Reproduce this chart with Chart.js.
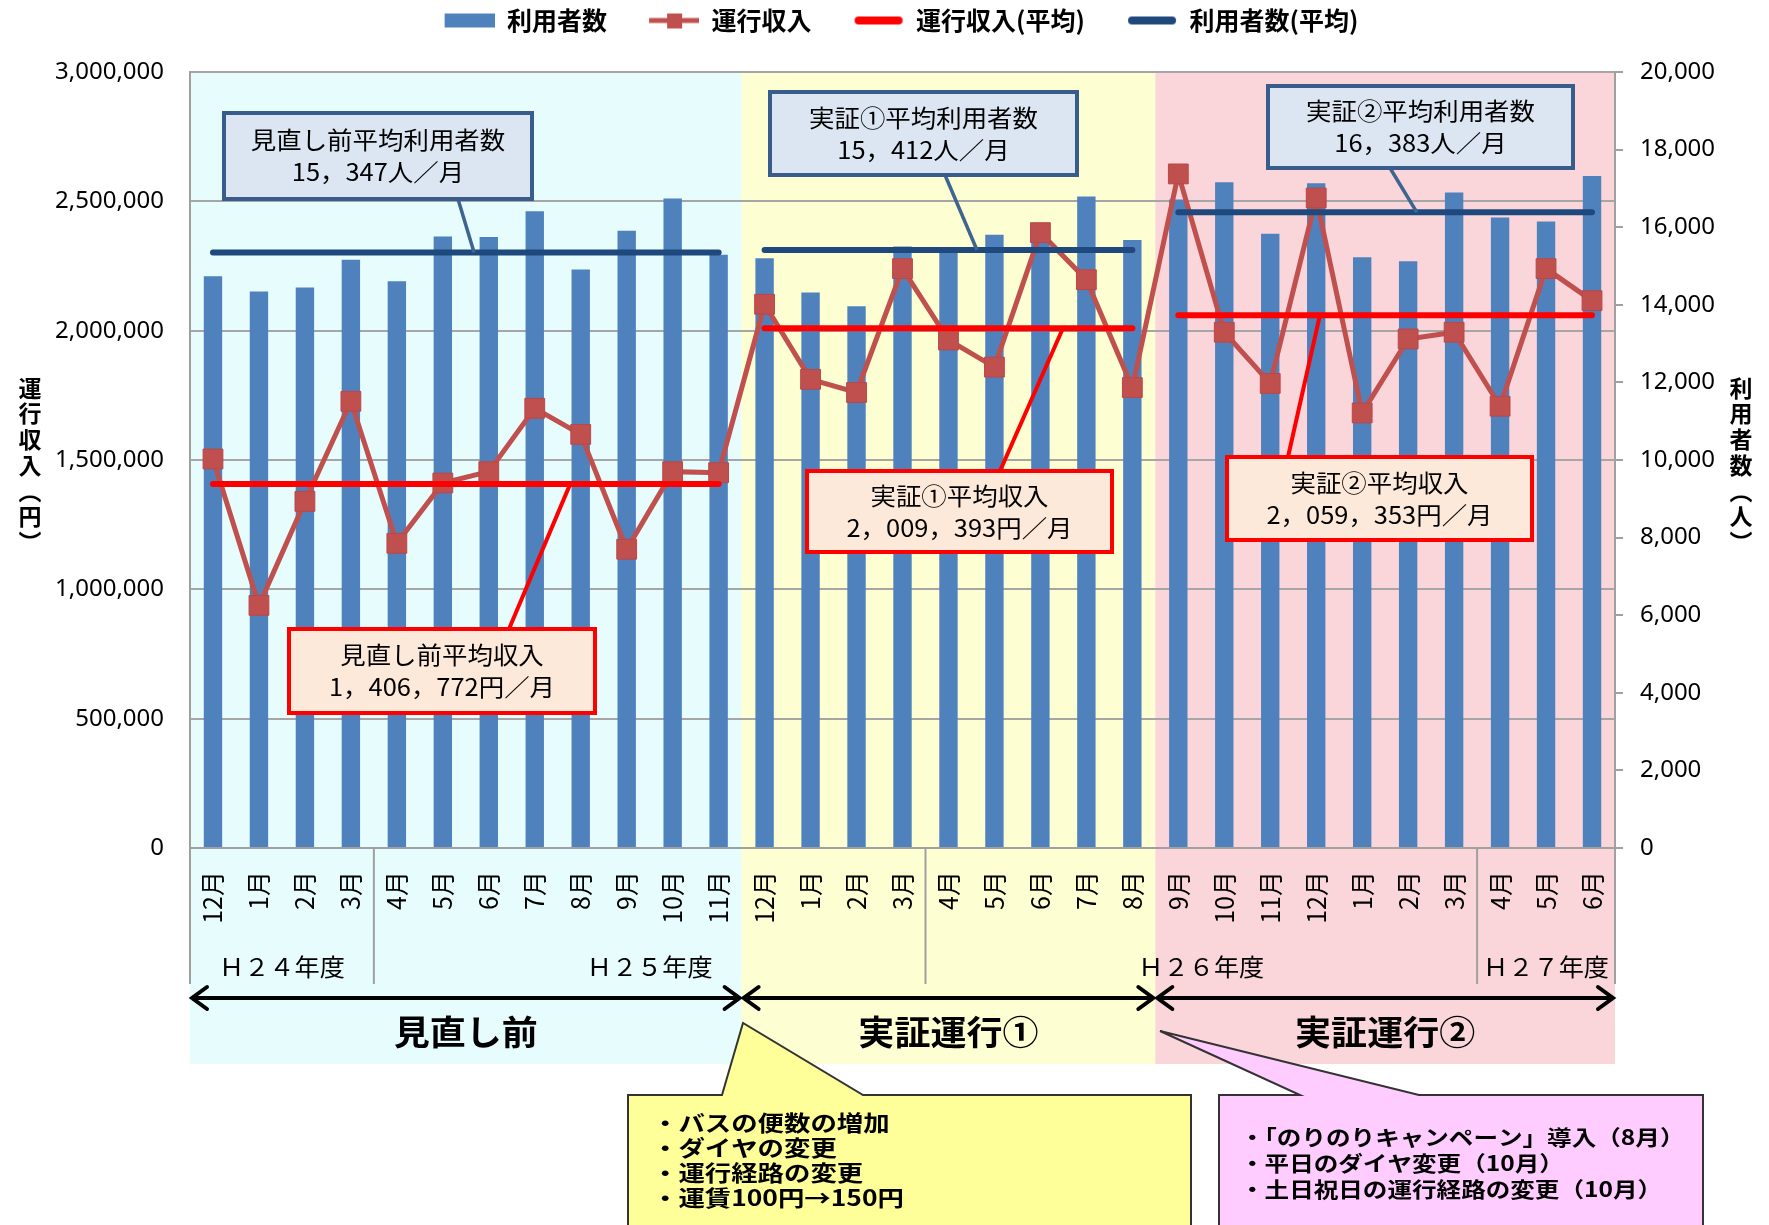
<!DOCTYPE html>
<html lang="ja">
<head>
<meta charset="utf-8">
<title>利用者数・運行収入の推移</title>
<script src="https://cdn.jsdelivr.net/npm/chart.js@4.4.1/dist/chart.umd.min.js"></script>
<style>
  html, body { margin: 0; padding: 0; background: #fff; }
  #wrap { width: 1769px; height: 1225px; }
</style>
</head>
<body>
<div id="wrap"><canvas id="chart" width="1769" height="1225"></canvas></div>
<script>
/* ---------- データ ---------- */
const months = ["12月","1月","2月","3月","4月","5月","6月","7月","8月","9月","10月","11月",
                "12月","1月","2月","3月","4月","5月","6月","7月","8月",
                "9月","10月","11月","12月","1月","2月","3月","4月","5月","6月"];

// 利用者数（人）
const users = [14737, 14342, 14447, 15158, 14605, 15763, 15750, 16408, 14908, 15908, 16737, 15289,
               15200, 14318, 13963, 15500, 15450, 15805, 16000, 16792, 15673,
               16713, 17161, 15832, 17135, 15226, 15121, 16897, 16253, 16147, 17319];

// 運行収入（円）
const revenue = [1504000, 938000, 1340000, 1727000, 1178000, 1411000, 1455000, 1700000, 1599000, 1155000, 1455000, 1451000,
                 2102000, 1812000, 1761000, 2240000, 1964000, 1859000, 2379000, 2197000, 1780000,
                 2606000, 1994000, 1796000, 2513000, 1682000, 1968000, 1994000, 1708000, 2240000, 2116000];

// 期間（見直し前・実証①・実証②）
const periodNames = ["見直し前", "実証運行①", "実証運行②"];
const periodEnds = [11, 20, 30];            // 各期間の最後のインデックス
const avgUsers = [15347, 15412, 16383];
const avgRevenue = [1406772, 2009393, 2059353];

// 年度
const fiscalYears = ["Ｈ２４年度", "Ｈ２５年度", "Ｈ２６年度", "Ｈ２７年度"];
const fiscalEnds = [3, 15, 27, 30];

// 軸
const revenueMax = 3000000, revenueStep = 500000;
const usersMax = 20000, usersStep = 2000;

// 吹き出し
const note1 = ["・バスの便数の増加", "・ダイヤの変更", "・運行経路の変更", "・運賃100円→150円"];
const note2 = ["・「のりのりキャンペーン」導入（8月）", "・平日のダイヤ変更（10月）", "・土日祝日の運行経路の変更（10月）"];

/* ---------- 補助 ---------- */
function periodOf(i) {
  return periodEnds.findIndex(e => i <= e);
}
const avgRevenueLine = months.map((m, i) => avgRevenue[periodOf(i)]);
const avgUsersLine = months.map((m, i) => avgUsers[periodOf(i)]);

// 期間の境目の線分は描かない
const hideBoundary = color => ctx =>
  periodOf(ctx.p0DataIndex) !== periodOf(ctx.p1DataIndex) ? 'rgba(0,0,0,0)' : color;

function fw(n) { return n.toLocaleString('en-US').replace(/,/g, '，'); }

const JP = "'Noto Sans CJK JP', 'Noto Sans', sans-serif";

function text(ctx, str, x, y, font, align, sx) {
  ctx.save();
  ctx.translate(x, y);
  ctx.scale(sx || 1, 1);
  ctx.font = font;
  ctx.textAlign = align || 'center';
  ctx.textBaseline = 'middle';
  ctx.fillText(str, 0, 0);
  ctx.restore();
}

/* 凡例アイコン */
function icon(draw) {
  const c = document.createElement('canvas');
  c.width = 84; c.height = 24;
  draw(c.getContext('2d'));
  return c;
}
const legendIcons = [
  icon(g => { g.fillStyle = '#4f81bd'; g.fillRect(34, 5, 50, 14); }),
  icon(g => {
    g.strokeStyle = '#c0504d'; g.lineWidth = 5;
    g.beginPath(); g.moveTo(34, 12); g.lineTo(84, 12); g.stroke();
    g.fillStyle = '#c0504d'; g.fillRect(52, 5, 15, 15);
  }),
  icon(g => {
    g.strokeStyle = '#ff0000'; g.lineWidth = 8; g.lineCap = 'round';
    g.beginPath(); g.moveTo(39, 12); g.lineTo(79, 12); g.stroke();
  }),
  icon(g => {
    g.strokeStyle = '#1f497d'; g.lineWidth = 8; g.lineCap = 'round';
    g.beginPath(); g.moveTo(39, 12); g.lineTo(79, 12); g.stroke();
  })
];

/* 平均値のラベル（枠の位置は画面座標、引出線の先は軸の値） */
const notes = [
  { box: [224, 113, 532, 199], kind: 'users', p: 0, title: "見直し前平均利用者数", from: [458, 199], at: 5.68 },
  { box: [770, 92, 1077, 175], kind: 'users', p: 1, title: "実証①平均利用者数", from: [945, 175], at: 16.62 },
  { box: [1268, 86, 1573, 168], kind: 'users', p: 2, title: "実証②平均利用者数", from: [1390, 168], at: 26.19 },
  { box: [289, 629, 595, 713], kind: 'rev', p: 0, title: "見直し前平均収入", from: [509, 629], at: 7.77 },
  { box: [807, 471, 1112, 552], kind: 'rev', p: 1, title: "実証①平均収入", from: [1000, 471], at: 18.49 },
  { box: [1227, 457, 1532, 540], kind: 'rev', p: 2, title: "実証②平均収入", from: [1288, 457], at: 24.08 }
];

const periodColors = ['#e7fdfd', '#fefed3', '#fad6da'];
const bandBottom = 1064;

const decor = {
  id: 'decor',
  beforeDraw(chart) {
    const { ctx, chartArea, scales: { x } } = chart;
    ctx.save();
    ctx.fillStyle = '#fff';
    ctx.fillRect(0, 0, chart.width, chart.height);
    let start = -0.5;
    periodEnds.forEach((end, k) => {
      const x0 = x.getPixelForValue(start), x1 = x.getPixelForValue(end + 0.5);
      ctx.fillStyle = periodColors[k];
      ctx.fillRect(x0, chartArea.top, x1 - x0, bandBottom - chartArea.top);
      start = end + 0.5;
    });
    ctx.restore();
  },

  afterDatasetsDraw(chart) {
    const { ctx, scales: { x, y, y1 } } = chart;
    ctx.save();
    notes.forEach(n => {
      const isUsers = n.kind === 'users';
      const val = isUsers ? avgUsers[n.p] : avgRevenue[n.p];
      const ty = isUsers ? y1.getPixelForValue(val) : y.getPixelForValue(val);
      const tx = x.getPixelForValue(n.at);
      // 引出線
      ctx.strokeStyle = isUsers ? '#3d6590' : '#ff0000';
      ctx.lineWidth = isUsers ? 3.5 : 4;
      ctx.beginPath(); ctx.moveTo(n.from[0], n.from[1]); ctx.lineTo(tx, ty); ctx.stroke();
      // 枠
      const [x0, y0, x1, yb] = n.box;
      ctx.fillStyle = isUsers ? '#dce6f2' : '#fde9d9';
      ctx.fillRect(x0, y0, x1 - x0, yb - y0);
      ctx.strokeStyle = isUsers ? '#385d8a' : '#ff0000';
      ctx.lineWidth = 4;
      ctx.strokeRect(x0, y0, x1 - x0, yb - y0);
      ctx.fillStyle = '#000';
      const cx = (x0 + x1) / 2, cy = (y0 + yb) / 2;
      const line2 = isUsers ? fw(val) + "人／月" : fw(val) + "円／月";
      text(ctx, n.title, cx, cy - 16, "24px " + JP, 'center', 1.06);
      text(ctx, line2, cx, cy + 16, "24px " + JP, 'center', 1.06);
    });
    ctx.restore();
  },

  afterDraw(chart) {
    const { ctx, chartArea, scales: { x } } = chart;
    ctx.save();

    // 軸タイトル（縦書き）
    ctx.fillStyle = '#000';
    const leftTitle = ["運", "行", "収", "入", "︵", "円", "︶"];
    const rightTitle = ["利", "用", "者", "数", "︵", "人", "︶"];
    leftTitle.forEach((c, i) => text(ctx, c, 30, 388 + i * 25.7, "bold 23px " + JP));
    rightTitle.forEach((c, i) => text(ctx, c, 1741, 388 + i * 25.7, "bold 23px " + JP));

    // 年度の区切り線と年度ラベル
    const bounds = [-0.5].concat(fiscalEnds.map(e => e + 0.5));
    ctx.strokeStyle = '#a0a0a0';
    ctx.lineWidth = 2;
    bounds.forEach(b => {
      const px = x.getPixelForValue(b);
      ctx.beginPath(); ctx.moveTo(px, chartArea.bottom); ctx.lineTo(px, 984); ctx.stroke();
    });
    fiscalYears.forEach((fy, k) => {
      const cx = (x.getPixelForValue(bounds[k]) + x.getPixelForValue(bounds[k + 1])) / 2;
      text(ctx, fy, cx, 967, "24px " + JP, 'center', 1.05);
    });

    // 期間の矢印とラベル
    let start = -0.5;
    periodEnds.forEach((end, k) => {
      const x0 = x.getPixelForValue(start) + 2, x1 = x.getPixelForValue(end + 0.5) - 2;
      const ay = 998;
      ctx.strokeStyle = '#000';
      ctx.lineWidth = 4;
      ctx.lineCap = 'round';
      ctx.beginPath();
      ctx.moveTo(x0, ay); ctx.lineTo(x1, ay);
      ctx.moveTo(x0 + 15, ay - 11); ctx.lineTo(x0, ay); ctx.lineTo(x0 + 15, ay + 11);
      ctx.moveTo(x1 - 15, ay - 11); ctx.lineTo(x1, ay); ctx.lineTo(x1 - 15, ay + 11);
      ctx.stroke();
      ctx.fillStyle = '#000';
      text(ctx, periodNames[k], (x0 + x1) / 2, 1032, "bold 34px " + JP, 'center', 1.06);
      start = end + 0.5;
    });

    // 吹き出し
    function callout(bx0, by0, bx1, by1, base0, base1, tip, fill) {
      ctx.beginPath();
      ctx.moveTo(bx0, by0);
      ctx.lineTo(base0, by0);
      ctx.lineTo(tip[0], tip[1]);
      ctx.lineTo(base1, by0);
      ctx.lineTo(bx1, by0);
      ctx.lineTo(bx1, by1);
      ctx.lineTo(bx0, by1);
      ctx.closePath();
      ctx.fillStyle = fill;
      ctx.fill();
      ctx.strokeStyle = '#333';
      ctx.lineWidth = 2;
      ctx.lineCap = 'butt';
      ctx.stroke();
    }
    callout(628, 1095, 1191, 1240, 722, 863, [743, 1023], '#ffff99');
    callout(1219, 1095, 1703, 1240, 1300, 1419, [1160, 1031], '#ffccff');

    ctx.fillStyle = '#000';
    note1.forEach((s, i) => text(ctx, s, 652, 1123 + i * 24.8, "bold 22px " + JP, 'left', 1.2));
    note2.forEach((s, i) => text(ctx, s, 1240, 1137 + i * 26, "bold 21px " + JP, 'left', 1.17));

    ctx.restore();
  }
};

/* ---------- グラフ ---------- */
new Chart(document.getElementById('chart'), {
  data: {
    labels: months,
    datasets: [
      {
        type: 'bar',
        label: '利用者数',
        data: users,
        yAxisID: 'y1',
        xAxisID: 'x',
        backgroundColor: '#4f81bd',
        barPercentage: 0.4,
        categoryPercentage: 1.0,
        order: 4
      },
      {
        type: 'line',
        label: '運行収入',
        data: revenue,
        yAxisID: 'y',
        xAxisID: 'x',
        borderColor: '#c0504d',
        borderWidth: 5,
        pointStyle: 'rect',
        pointRadius: 14,
        pointBackgroundColor: '#c0504d',
        pointBorderColor: '#b9474b',
        pointBorderWidth: 1,
        tension: 0,
        order: 3
      },
      {
        type: 'line',
        label: '運行収入(平均)',
        data: avgRevenueLine,
        yAxisID: 'y',
        xAxisID: 'x',
        borderColor: '#ff0000',
        borderWidth: 6,
        borderCapStyle: 'round',
        pointRadius: 0,
        segment: { borderColor: hideBoundary('#ff0000') },
        order: 2
      },
      {
        type: 'line',
        label: '利用者数(平均)',
        data: avgUsersLine,
        yAxisID: 'y1',
        xAxisID: 'x',
        borderColor: '#1f497d',
        borderWidth: 6,
        borderCapStyle: 'round',
        pointRadius: 0,
        segment: { borderColor: hideBoundary('#1f497d') },
        order: 1
      }
    ]
  },
  options: {
    responsive: false,
    animation: false,
    devicePixelRatio: 1,
    layout: { padding: 0 },
    plugins: {
      tooltip: { enabled: false },
      legend: {
        position: 'top',
        labels: {
          usePointStyle: true,
          pointStyleWidth: 84,
          padding: 8,
          color: '#000',
          font: { family: JP, size: 25, weight: 'bold' },
          sort: (a, b) => a.datasetIndex - b.datasetIndex,
          generateLabels(chart) {
            const items = Chart.defaults.plugins.legend.labels.generateLabels(chart);
            items.forEach(it => { it.pointStyle = legendIcons[it.datasetIndex]; });
            return items;
          }
        }
      }
    },
    scales: {
      x: {
        type: 'category',
        axis: 'x',
        position: 'bottom',
        offset: true,
        grid: { display: false, drawTicks: false },
        border: { display: true, color: '#a0a0a0', width: 2 },
        ticks: {
          autoSkip: false,
          maxRotation: 90,
          minRotation: 90,
          padding: 23,
          color: '#000',
          font: { family: JP, size: 25 }
        },
        afterFit(s) { s.height = 377; }
      },
      xTop: {
        type: 'category',
        axis: 'x',
        position: 'top',
        offset: true,
        grid: { display: false, drawTicks: false },
        border: { display: false },
        ticks: { display: false },
        afterFit(s) { s.height = 29; }
      },
      y: {
        type: 'linear',
        position: 'left',
        min: 0,
        max: revenueMax,
        grid: { color: '#a6a6a6', lineWidth: 2, drawTicks: false },
        border: { display: true, color: '#a0a0a0', width: 2 },
        ticks: {
          stepSize: revenueStep,
          padding: 26,
          color: '#000',
          font: { family: "'Noto Sans', sans-serif", size: 24 },
          callback: v => v.toLocaleString('en-US')
        },
        afterFit(s) { s.width = 190; }
      },
      y1: {
        type: 'linear',
        position: 'right',
        min: 0,
        max: usersMax,
        grid: { display: true, drawOnChartArea: false, drawTicks: true, tickLength: 8, color: '#a0a0a0', lineWidth: 2 },
        border: { display: true, color: '#a0a0a0', width: 2 },
        ticks: {
          stepSize: usersStep,
          padding: 17,
          color: '#000',
          font: { family: "'Noto Sans', sans-serif", size: 24 },
          callback: v => v.toLocaleString('en-US')
        },
        afterFit(s) { s.width = 154; }
      }
    }
  },
  plugins: [decor]
});
</script>
</body>
</html>
